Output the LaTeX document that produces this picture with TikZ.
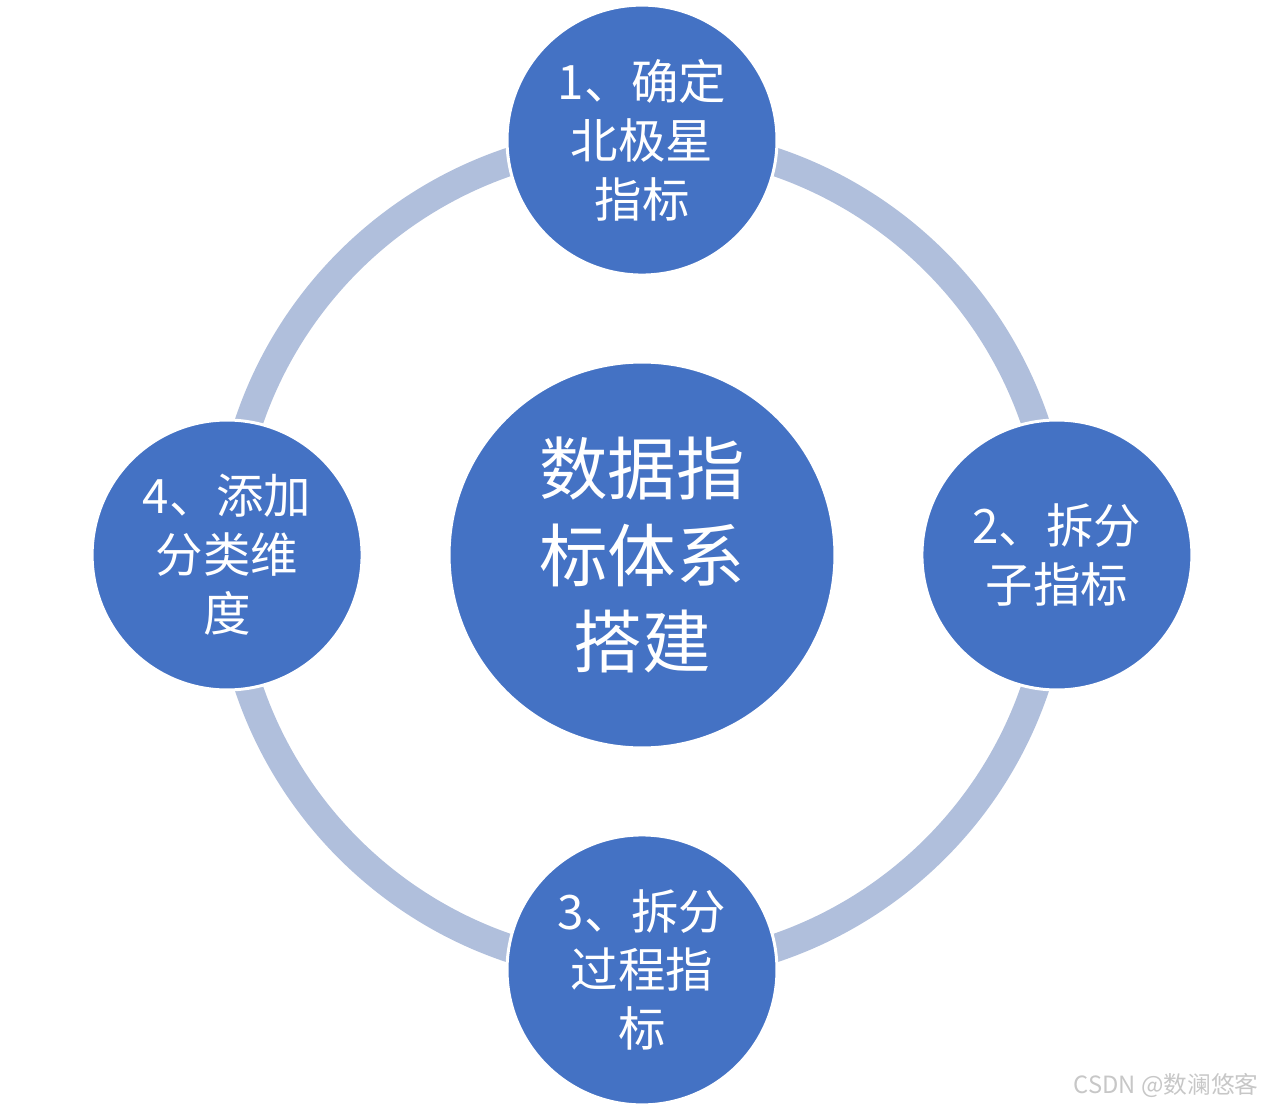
\documentclass[tikz,border=0pt]{standalone}
\usepackage{fontspec}
\setmainfont{Noto Sans CJK SC}
\usetikzlibrary{positioning}

\definecolor{discblue}{HTML}{4472C4}
\definecolor{ringgrey}{HTML}{B0BFDC}

\begin{document}
\begin{tikzpicture}[
    x=0.02cm, y=-0.02cm,
    hub/.style={circle, fill=discblue, draw=white, line width=1.7pt, minimum size=7.72cm, align=center, text=white, font=\fontsize{39}{49}\selectfont},
    spoke/.style={circle, fill=discblue, draw=white, line width=1.7pt, minimum size=5.4cm, align=center, text=white, font=\fontsize{27}{33.5}\selectfont},
    ring/.style={draw=ringgrey, line width=16pt},
    node distance=8.3cm, on grid
]
    \useasboundingbox (0,0) rectangle (1264,1108);

    % Ring behind the discs
    \coordinate (centre) at (642,555);
    \draw[ring] (centre) circle[radius=8.3cm];

    % Centre disc
    \node[hub] (hub) at (centre) {数据指\\标体系\\搭建};

    % Steps around the ring
    \node[spoke, above=of hub] (north) {1、确定\\北极星\\指标};
    \node[spoke, right=of hub] (east) {2、拆分\\子指标};
    \node[spoke, below=of hub] (south) {3、拆分\\过程指\\标};
    \node[spoke, left=of hub] (west) {4、添加\\分类维\\度};

    % Watermark
    \node[text=black!22, font=\fontsize{13.5}{16}\selectfont, anchor=east, inner sep=0pt] (mark) at (1259,1085) {CSDN @数澜悠客};
\end{tikzpicture}
\end{document}
